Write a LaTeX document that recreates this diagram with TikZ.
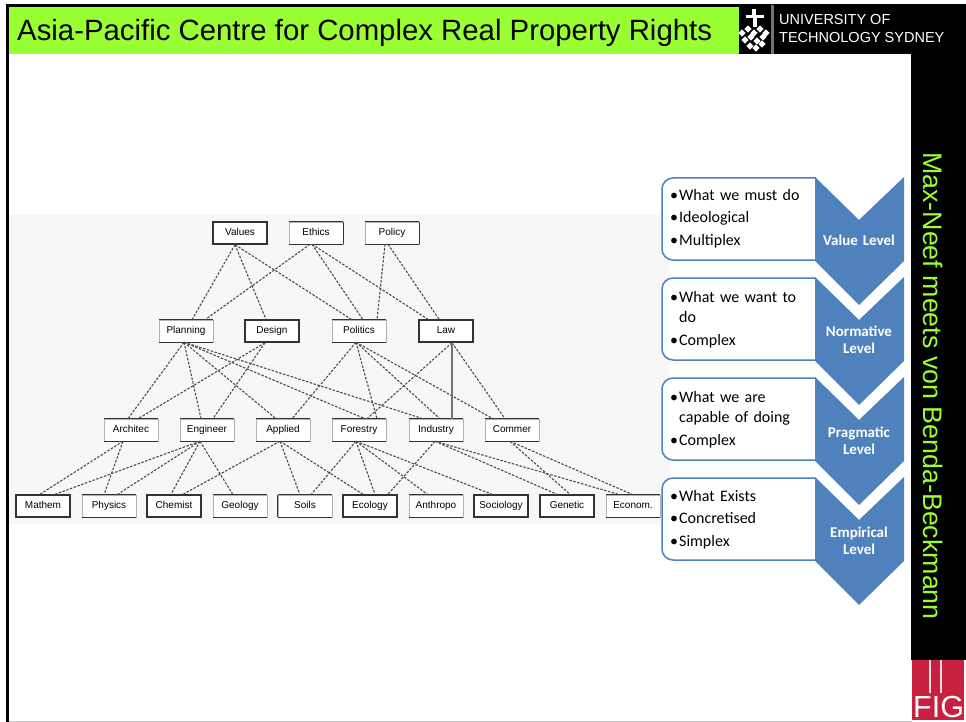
\documentclass[tikz,border=0pt]{standalone}
\usepackage{fontspec}
\setmainfont{Liberation Sans}
\newfontfamily\calibri{Carlito}
\usetikzlibrary{positioning}
\definecolor{limebar}{HTML}{99FF33}
\definecolor{levelblue}{HTML}{4F81BD}
\definecolor{figred}{HTML}{C8203F}
\tikzset{
discbox/.style={draw=black!30,line width=0.5pt,fill=white,minimum width=54,minimum height=22,inner sep=0pt,text height=7,text depth=2,font=\fontsize{10}{10}\selectfont},
heavybox/.style={discbox,draw=black!80,line width=1.4pt},
link/.style={dash pattern=on 2.5pt off 1.5pt,line width=1.1pt,black!70},
levelshape/.style={fill=levelblue},
textpanel/.style={draw=levelblue,line width=1.5pt,fill=white,rounded corners=11},
leveltext/.style={text=white,font=\calibri\bfseries\fontsize{15}{17.5}\selectfont,align=center,text width=85},
itemtext/.style={font=\calibri\fontsize{16}{22.5}\selectfont,text width=135,align=left,anchor=north west,inner sep=0pt}
}
\newcommand{\itemdot}{\makebox[9pt][l]{\textbullet}}
\begin{document}
\begin{tikzpicture}[x=1pt,y=-1pt]
\useasboundingbox (0,0) rectangle (966,722);
\fill[white] (0,0) rectangle (966,722);
\fill[black] (6,4) rectangle (966,7);
\fill[black] (6,4) rectangle (8.5,722);
\fill[black!22] (8.5,721) rectangle (912,722);
\fill[black] (739,4) rectangle (966,54);
\fill[black] (911,54) rectangle (966,660);
\fill[limebar] (8.5,7) rectangle (739,54);
\node[anchor=west,inner sep=0pt,font=\fontsize{29.35}{29.35}\selectfont] (title) at (17,32.5) {Asia-Pacific Centre for Complex Real Property Rights};
\node[rotate=-90,text=limebar,inner sep=0pt,font=\fontsize{26.8}{26.8}\selectfont] (sidetitle) at (933,386) {Max-Neef meets von Benda-Beckmann};

\fill[black!55] (771,5) rectangle (774,54);
\fill[white] (752,9) rectangle (756,15);
\fill[white] (746,15) rectangle (764,18);
\fill[white] (753,18) rectangle (757,27);
\foreach \x/\y in {742/33,748/29,754/33,760/29,766/33,745/40,751/37,757/41,763/37,750/46,756/48,762/44}
{
\fill[white,rotate around={45:(\x,\y)}] (\x-2.5,\y-2.5) rectangle (\x+2.5,\y+2.5);
}
\node[anchor=west,inner sep=0pt,text=white,font=\fontsize{14.5}{18}\selectfont,align=left] (uni) at (779,29) {UNIVERSITY OF\\TECHNOLOGY SYDNEY};

\fill[figred] (912,660) rectangle (964,720);
\fill[white!85!figred] (929,660) rectangle (931,693);
\fill[white!85!figred] (940,660) rectangle (942,693);
\node[anchor=south west,inner sep=0pt,text=white,font=\fontsize{30.5}{30.5}\selectfont] (fig) at (913,718) {FIG};

\fill[black!3] (8.5,215) rectangle (670,524);

\node[heavybox] (values) at (240,233) {Values};
\node[discbox] (ethics) at (316,233) {Ethics};
\node[discbox] (policy) at (392,233) {Policy};
\node[discbox] (planning) at (186,331) {Planning};
\node[heavybox] (design) at (272,331) {Design};
\node[discbox] (politics) at (359,331) {Politics};
\node[heavybox] (law) at (446,331) {Law};
\node[discbox] (architec) at (131,430) {Architec};
\node[discbox] (engineer) at (207,430) {Engineer};
\node[discbox] (applied) at (283,430) {Applied};
\node[discbox] (forestry) at (359,430) {Forestry};
\node[discbox] (industry) at (436,430) {Industry};
\node[discbox] (commerce) at (512,430) {Commer};
\node[heavybox] (mathem) at (43,506) {Mathem};
\node[discbox] (physics) at (109,506) {Physics};
\node[heavybox] (chemistry) at (174,506) {Chemist};
\node[discbox] (geology) at (240,506) {Geology};
\node[discbox] (soils) at (305,506) {Soils};
\node[heavybox] (ecology) at (370,506) {Ecology};
\node[discbox] (anthro) at (436,506) {Anthropo};
\node[heavybox] (sociology) at (501,506) {Sociology};
\node[heavybox] (genetic) at (567,506) {Genetic};
\node[discbox] (econom) at (633,506) {Econom.};

\foreach \n in {ethics,policy,planning,politics,architec,engineer,applied,forestry,industry,commerce,physics,geology,soils,anthro,econom}
{
\draw[black!80,line width=1.4pt] (\n.north west) -- (\n.north east);
\draw[black!80,line width=1.4pt] (\n.south west) -- (\n.south east);
}
\foreach \n in {ethics,policy}
{
\draw[black!80,line width=1.4pt] (\n.north east) -- (\n.south east);
}
\draw[black!80,line width=1.4pt] (soils.north west) -- (soils.south west);

\foreach \a/\b/\s/\t in {values/planning/-5/6,values/design/-5/-6,values/politics/-5/-7,ethics/planning/-6/19,ethics/politics/-4/4,ethics/law/-4/-18,policy/politics/-7/18,policy/law/-4/-7,
planning/architec/-2/-3,planning/engineer/-2/-6,planning/applied/-2/-7,planning/forestry/-2/6,planning/industry/-2/-13,design/architec/-7/7,design/engineer/-7/6,
politics/applied/-3/9,politics/forestry/-3/18,politics/industry/-3/4,politics/commerce/-3/-19,law/forestry/6/8,law/commerce/6/-7,
architec/mathem/-8/-3,architec/physics/-8/-5,engineer/mathem/-7/12,engineer/physics/-7/8,engineer/chemistry/-7/-3,engineer/geology/-7/-7,
applied/chemistry/-3/9,applied/soils/-3/-5,applied/ecology/-3/-7,forestry/soils/-3/6,forestry/ecology/-3/5,forestry/anthro/-3/-8,forestry/sociology/-3/-9,
industry/ecology/-1/18,industry/genetic/-1/-10,industry/econom/-1/-13,commerce/genetic/-2/3,commerce/econom/-2/0}
{
\draw[link] ([xshift=\s]\a.south) -- ([xshift=\t]\b.north);
}
\draw[black!55,line width=1.1pt] ([xshift=6]law.south) -- ([xshift=16]industry.north);

\foreach \y/\z in {178/260,278/360,378/460,478/560}
{
\draw[textpanel] (816,\y) -- (662,\y) -- (662,\z) -- (816,\z);
}
\foreach \y/\n/\b/\z in {177/220/261/305,277/320/361/405,377/420/461/505,477/520/561/605}
{
\fill[levelshape] (815,\y) -- (859,\n) -- (904,\y) -- (904,\b) -- (859,\z) -- (815,\b) -- cycle;
}
\node[leveltext] (value) at (859,240) {Value Level};
\node[leveltext] (normative) at (859,340) {Normative\\Level};
\node[leveltext] (pragmatic) at (859,441) {Pragmatic\\Level};
\node[leveltext] (empirical) at (859,541) {Empirical\\Level};
\node[itemtext] (itemsa) at (670,189) {\itemdot What we must do\\ \itemdot Ideological\\ \itemdot Multiplex};
\node[itemtext] (itemsb) at (670,291) {\itemdot What we want to\\[-2pt] \hspace*{9pt}do\\ \itemdot Complex};
\node[itemtext] (itemsc) at (670,391) {\itemdot What we are\\[-2pt] \hspace*{9pt}capable of doing\\ \itemdot Complex};
\node[itemtext] (itemsd) at (670,490) {\itemdot What Exists\\ \itemdot Concretised\\ \itemdot Simplex};
\end{tikzpicture}
\end{document}
